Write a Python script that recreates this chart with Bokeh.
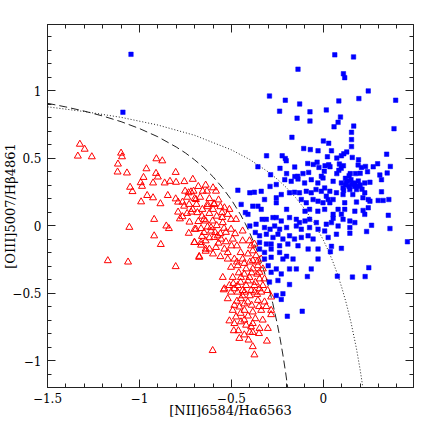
from bokeh.plotting import figure
from bokeh.models import LinearAxis, SingleIntervalTicker, CustomJSTickFormatter, Range1d
from bokeh.embed import file_html
from bokeh.resources import INLINE

# ---------------- data ----------------
# star-forming galaxies (red open triangles): log [NII]/Ha, log [OIII]/Hb
SF_X = [-1.324,-1.298,-1.335,-1.259,-1.10,-1.095,-1.117,-1.119,-1.068,-1.051,-1.038,-0.991,-0.962,-0.908,-0.876,-0.91,
        -0.978,-0.993,-0.986,-0.926,-0.90,-0.958,-0.926,-0.886,-0.846,-0.863,-0.834,-0.803,-0.801,-0.756,-0.71,-0.92,
        -1.055,-0.854,-0.84,-0.92,-0.884,-1.172,-1.062,-0.803,-0.803,-0.79,-0.752,-0.733,-0.72,-0.766,-0.757,-0.73,
        -0.79,-0.766,-0.741,-0.719,-0.728,-0.732,-0.70,-0.70,
        -0.706,-0.656,-0.633,-0.584,-0.693,-0.69,-0.63,-0.594,-0.711,-0.685,-0.658,-0.649,-0.64,-0.602,-0.547,-0.551,
        -0.52,-0.502,-0.475,-0.511,-0.538,-0.693,-0.665,-0.611,-0.589,-0.575,-0.594,-0.556,-0.611,-0.649,-0.502,-0.493,
        -0.439,-0.439,-0.402,-0.393,-0.384,-0.702,-0.665,-0.64,-0.62,-0.584,-0.538,-0.675,-0.52,-0.484,-0.439,-0.384,
        -0.502,-0.466,-0.42,-0.384,-0.356,-0.347,-0.547,-0.493,-0.448,-0.402,-0.347,-0.32,-0.511,-0.466,-0.42,-0.375,
        -0.329,-0.538,-0.484,-0.439,-0.393,-0.347,-0.375,-0.366,-0.338,-0.329,
        -0.542,-0.502,-0.466,-0.429,-0.375,-0.338,-0.303,-0.284,-0.52,-0.448,-0.411,-0.356,-0.32,-0.484,-0.457,-0.493,
        -0.429,-0.384,-0.338,-0.284,-0.284,-0.475,-0.511,-0.484,-0.448,-0.42,-0.384,-0.393,-0.347,-0.302,-0.487,-0.462,
        -0.384,-0.457,-0.407,-0.307,-0.384,-0.602,-0.375,
        -0.46,-0.43,-0.39,-0.36,-0.41,-0.37,-0.45,-0.49,-0.44,-0.40,-0.36,-0.47,-0.43,-0.39,-0.35,-0.31,-0.45,-0.41,
        -0.37,-0.33,-0.43,-0.40,-0.43,-0.35,-0.47,-0.43,-0.40,-0.36,-0.45,-0.41,-0.47,-0.52,-0.56,-0.53,-0.48,-0.58,
        -0.62,-0.55,-0.63,-0.595,-0.665,-0.64,-0.675,
        -0.67,-0.62,-0.57,-0.66,-0.60,-0.56,-0.68,-0.63,-0.58,-0.54,-0.66,-0.62,-0.57,-0.53,-0.50,-0.60,-0.56,-0.64,
        -0.70,-0.74,-0.78,-0.68,-0.64,-0.60]
SF_Y = [0.603,0.566,0.515,0.51,0.537,0.51,0.456,0.397,0.39,0.284,0.252,0.176,0.421,0.495,0.48,0.387,
        0.357,0.318,0.291,0.316,0.36,0.223,0.206,0.162,0.223,0.316,0.328,0.394,0.321,0.326,0.343,0.046,
        -0.013,-0.003,-0.022,-0.076,-0.14,-0.26,-0.27,-0.304,0.198,0.174,0.255,0.243,0.25,0.174,0.144,0.157,
        0.10,0.066,0.09,0.10,0.026,-0.057,-0.125,-0.027,
        0.255,0.255,0.255,0.255,0.193,0.157,0.157,0.157,0.12,0.096,0.12,0.046,0.034,0.034,0.022,0.096,
        0.083,0.046,0.046,0.12,0.132,-0.027,-0.022,-0.015,-0.051,-0.076,-0.088,-0.1,-0.04,-0.051,-0.027,-0.1,
        -0.04,-0.113,-0.113,-0.15,-0.187,-0.125,-0.125,-0.113,-0.174,-0.162,-0.174,-0.235,-0.248,-0.248,-0.248,-0.26,
        -0.309,-0.297,-0.321,-0.321,-0.297,-0.346,-0.384,-0.384,-0.384,-0.384,-0.395,-0.395,-0.444,-0.444,-0.444,-0.444,
        -0.444,-0.468,-0.468,-0.481,-0.481,-0.468,-0.137,-0.223,-0.248,-0.321,
        -0.476,-0.493,-0.493,-0.493,-0.493,-0.493,-0.481,-0.529,-0.542,-0.542,-0.566,-0.554,-0.566,-0.591,-0.603,-0.628,
        -0.628,-0.64,-0.628,-0.628,-0.66,-0.677,-0.706,-0.726,-0.713,-0.738,-0.726,-0.75,-0.762,-0.762,-0.779,-0.779,
        -0.792,-0.836,-0.848,-0.856,-0.897,-0.926,-0.958,
        -0.35,-0.36,-0.35,-0.36,-0.41,-0.42,-0.42,-0.43,-0.52,-0.52,-0.51,-0.56,-0.58,-0.59,-0.60,-0.60,-0.65,-0.67,
        -0.69,-0.70,-0.70,-0.79,-0.81,-0.80,-0.27,-0.28,-0.27,-0.27,-0.20,-0.21,-0.15,-0.20,-0.06,-0.05,-0.06,0.07,
        0.09,0.06,0.14,0.162,-0.145,-0.174,-0.228,
        0.21,0.20,0.19,0.07,0.12,0.14,0.03,-0.01,0.00,-0.02,-0.08,-0.09,-0.13,-0.12,-0.15,-0.21,-0.23,-0.19,
        0.20,0.21,0.05,0.29,0.30,0.28]

# AGN / composite (blue filled squares)
AGN_X = [-1.046,-1.09,
         0.062,0.164,-0.138,0.109,0.116,0.244,-0.293,-0.207,-0.129,0.084,0.193,0.393,-0.238,-0.073,0.016,-0.143,
         -0.073,0.093,0.058,0.08,0.165,0.384,-0.171,0.153,0.153,0.0,0.029,0.153,-0.107,-0.071,-0.029,0.044,0.127,
         -0.309,-0.224,-0.207,-0.202,0.022,0.073,0.098,0.111,0.157,0.191,0.344,-0.356,-0.236,-0.156,-0.085,-0.055,
         -0.034,-0.024,0.009,0.029,0.036,0.087,0.109,0.097,0.189,0.207,0.229,0.271,0.295,0.364,-0.287,-0.2,-0.155,
         -0.14,-0.111,-0.08,-0.011,0.005,0.073,0.084,0.146,0.175,0.2,0.24,0.307,0.347,
         -0.21,-0.175,-0.138,-0.102,-0.066,-0.03,-0.002,-0.29,-0.256,-0.40,-0.375,-0.338,-0.465,-0.229,-0.184,-0.157,
         -0.13,-0.093,-0.066,-0.04,-0.011,0.016,-0.32,-0.256,-0.256,-0.12,-0.093,-0.056,-0.029,-0.002,0.026,-0.447,
         -0.384,-0.356,-0.20,-0.10,-0.075,-0.03,0.007,-0.424,-0.41,-0.338,-0.333,-0.31,-0.274,-0.256,-0.229,-0.184,
         -0.147,-0.13,-0.10,-0.075,-0.038,0.016,-0.40,-0.366,-0.32,-0.29,-0.265,-0.238,-0.20,-0.147,-0.12,-0.075,
         -0.029,0.007,-0.37,-0.347,-0.31,-0.274,-0.247,-0.22,-0.184,-0.157,-0.12,-0.083,-0.056,0.026,-0.347,-0.31,
         -0.284,-0.238,-0.193,-0.138,-0.083,-0.029,-0.347,-0.32,-0.284,-0.238,-0.20,
         -0.32,-0.284,-0.22,-0.165,-0.029,-0.30,-0.256,-0.184,-0.147,-0.066,-0.284,-0.229,-0.087,-0.293,-0.247,-0.184,
         -0.256,-0.229,-0.22,-0.196,-0.115,
         0.316,0.053,0.098,0.125,0.153,0.171,0.189,0.225,0.253,0.107,0.144,0.18,0.007,0.035,0.071,0.225,0.316,0.107,
         0.16,0.215,0.244,0.298,0.325,0.356,0.053,0.035,0.116,0.18,0.253,0.08,0.116,0.171,0.216,0.244,0.053,0.098,
         0.225,0.353,0.053,0.107,0.144,0.171,0.044,0.262,0.08,0.144,0.362,0.071,0.144,0.235,0.044,0.098,0.038,0.457,
         0.247,0.076,0.158,0.227,
         0.12,0.14,0.16,0.13,0.15,0.17,0.11,0.19,0.2,0.12,0.14,0.21]
AGN_Y = [1.269,0.84,
         1.265,1.25,1.159,1.125,1.096,0.998,0.96,0.929,0.901,0.924,0.941,0.929,0.848,0.843,0.857,0.796,
         0.774,0.804,0.732,0.765,0.737,0.718,0.654,0.691,0.637,0.627,0.61,0.585,0.571,0.563,0.554,0.554,0.546,
         0.517,0.517,0.497,0.48,0.51,0.5,0.517,0.532,0.505,0.488,0.529,0.436,0.424,0.434,0.46,0.453,
         0.47,0.431,0.443,0.451,0.436,0.456,0.443,0.424,0.449,0.431,0.438,0.436,0.458,0.438,0.377,0.385,0.363,
         0.365,0.385,0.394,0.365,0.402,0.385,0.409,0.385,0.385,0.387,0.399,0.375,0.39,
         0.34,0.328,0.345,0.316,0.34,0.316,0.353,0.29,0.304,0.243,0.247,0.254,0.262,0.23,0.243,0.247,
         0.243,0.254,0.243,0.267,0.254,0.218,0.193,0.206,0.169,0.193,0.169,0.193,0.181,0.169,0.193,0.157,
         0.144,0.144,0.12,0.107,0.12,0.107,0.12,0.096,0.083,0.12,0.046,0.046,0.059,0.059,0.034,0.059,
         0.046,0.022,0.034,0.046,0.022,0.01,-0.003,0.01,-0.015,-0.027,-0.003,-0.027,-0.015,-0.003,-0.027,-0.015,
         -0.027,-0.04,-0.051,-0.076,-0.064,-0.088,-0.064,-0.10,-0.076,-0.10,-0.088,-0.076,-0.10,-0.088,-0.125,-0.137,
         -0.137,-0.15,-0.137,-0.15,-0.174,-0.174,-0.174,-0.199,-0.174,-0.199,-0.228,
         -0.248,-0.235,-0.248,-0.248,-0.248,-0.297,-0.321,-0.321,-0.321,-0.321,-0.346,-0.358,-0.378,-0.419,-0.407,-0.437,
         -0.518,-0.547,-0.505,-0.672,-0.635,
         0.34,0.328,0.316,0.316,0.304,0.316,0.291,0.316,0.321,0.279,0.267,0.267,0.279,0.254,0.243,0.243,0.25,0.23,
         0.23,0.206,0.193,0.186,0.186,0.193,0.193,0.169,0.169,0.174,0.181,0.12,0.12,0.107,0.112,0.132,0.083,0.083,
         0.083,0.076,0.054,0.046,0.034,0.022,0.022,0.002,-0.003,-0.015,-0.022,-0.064,-0.057,-0.044,-0.154,-0.169,-0.194,-0.12,
         -0.312,-0.375,-0.382,-0.378,
         0.30,0.29,0.31,0.33,0.34,0.29,0.26,0.33,0.30,0.35,0.37,0.27]

# demarcation curves
KAUF_X = [-1.5,-1.4,-1.3,-1.2,-1.1,-1.0,-0.9,-0.8,-0.75,-0.7,-0.65,-0.6,-0.55,-0.5,-0.45,-0.425,-0.4,-0.375,
          -0.35,-0.325,-0.3,-0.275,-0.25,-0.235,-0.22,-0.205,-0.194]
KAUF_Y = [0.906,0.879,0.848,0.812,0.770,0.719,0.658,0.582,0.538,0.487,0.429,0.362,0.283,0.191,0.080,0.016,-0.056,
          -0.135,-0.225,-0.327,-0.443,-0.577,-0.733,-0.840,-0.959,-1.092,-1.200]
KEW_X = [-1.5,-1.3,-1.1,-0.9,-0.7,-0.5,-0.4,-0.3,-0.25,-0.2,-0.15,-0.1,-0.05,0.0,0.025,0.05,0.075,0.1,0.125,
         0.15,0.18,0.2,0.215]
KEW_Y = [0.880,0.845,0.802,0.745,0.669,0.561,0.489,0.398,0.343,0.280,0.206,0.120,0.017,-0.108,-0.181,-0.262,
         -0.354,-0.459,-0.578,-0.716,-0.913,-1.069,-1.202]

X_LABEL = "[NII]6584/Hα6563"
Y_LABEL = "[OIII]5007/Hβ4861"

FONT = "DejaVu Serif"

p = figure(width=420, height=420,
           x_range=Range1d(-1.5, 0.49), y_range=Range1d(-1.2, 1.49),
           output_backend="svg", toolbar_location=None,
           x_axis_location=None, y_axis_location=None,
           min_border_left=47, min_border_right=7, min_border_top=24, min_border_bottom=31)
p.grid.visible = False
p.outline_line_color = "#222222"
p.background_fill_color = "white"

fmt = CustomJSTickFormatter(code="""
const v = Math.round(tick * 10) / 10;
if (Math.abs(v) < 1e-9) return '0';
if (v < 0) return '\u2212' + (-v).toString();
return v.toString();
""")
blank = CustomJSTickFormatter(code="return '';")

def make_axis(label, show):
    ax = LinearAxis(ticker=SingleIntervalTicker(interval=0.5, num_minor_ticks=5),
                    formatter=fmt if show else blank)
    ax.major_tick_in = 8
    ax.major_tick_out = 0
    ax.minor_tick_in = 4
    ax.minor_tick_out = 0
    ax.axis_line_color = "#222222"
    ax.major_tick_line_color = "#222222"
    ax.minor_tick_line_color = "#222222"
    ax.major_label_text_font = FONT
    ax.major_label_text_font_size = "12px" if show else "0px"
    ax.major_label_text_color = "black"
    if label:
        ax.axis_label = label
        ax.axis_label_text_font = FONT
        ax.axis_label_text_font_size = "13px"
        ax.axis_label_text_font_style = "normal"
        ax.axis_label_text_color = "black"
    return ax

bottom = make_axis(X_LABEL, True)
bottom.major_label_standoff = 5
bottom.axis_label_standoff = -3
left = make_axis(Y_LABEL, True)
left.major_label_standoff = 6
left.axis_label_standoff = -9
top = make_axis(None, False)
top.major_label_standoff = 0
right = make_axis(None, False)
right.major_label_standoff = 0

p.add_layout(bottom, "below")
p.add_layout(left, "left")
p.add_layout(top, "above")
p.add_layout(right, "right")

p.line(KAUF_X, KAUF_Y, line_color="#222222", line_width=1, line_dash="8 4")
p.line(KEW_X, KEW_Y, line_color="#222222", line_width=1, line_dash="1 2")

p.scatter(SF_X, SF_Y, marker="triangle", size=7, fill_color=None, line_color="#ff0000", line_width=1)
p.scatter(AGN_X, AGN_Y, marker="square", size=4.5, fill_color="#0000ff", line_color="#0000ff", line_width=0.5)

open("out.html", "w").write(file_html(p, INLINE))
